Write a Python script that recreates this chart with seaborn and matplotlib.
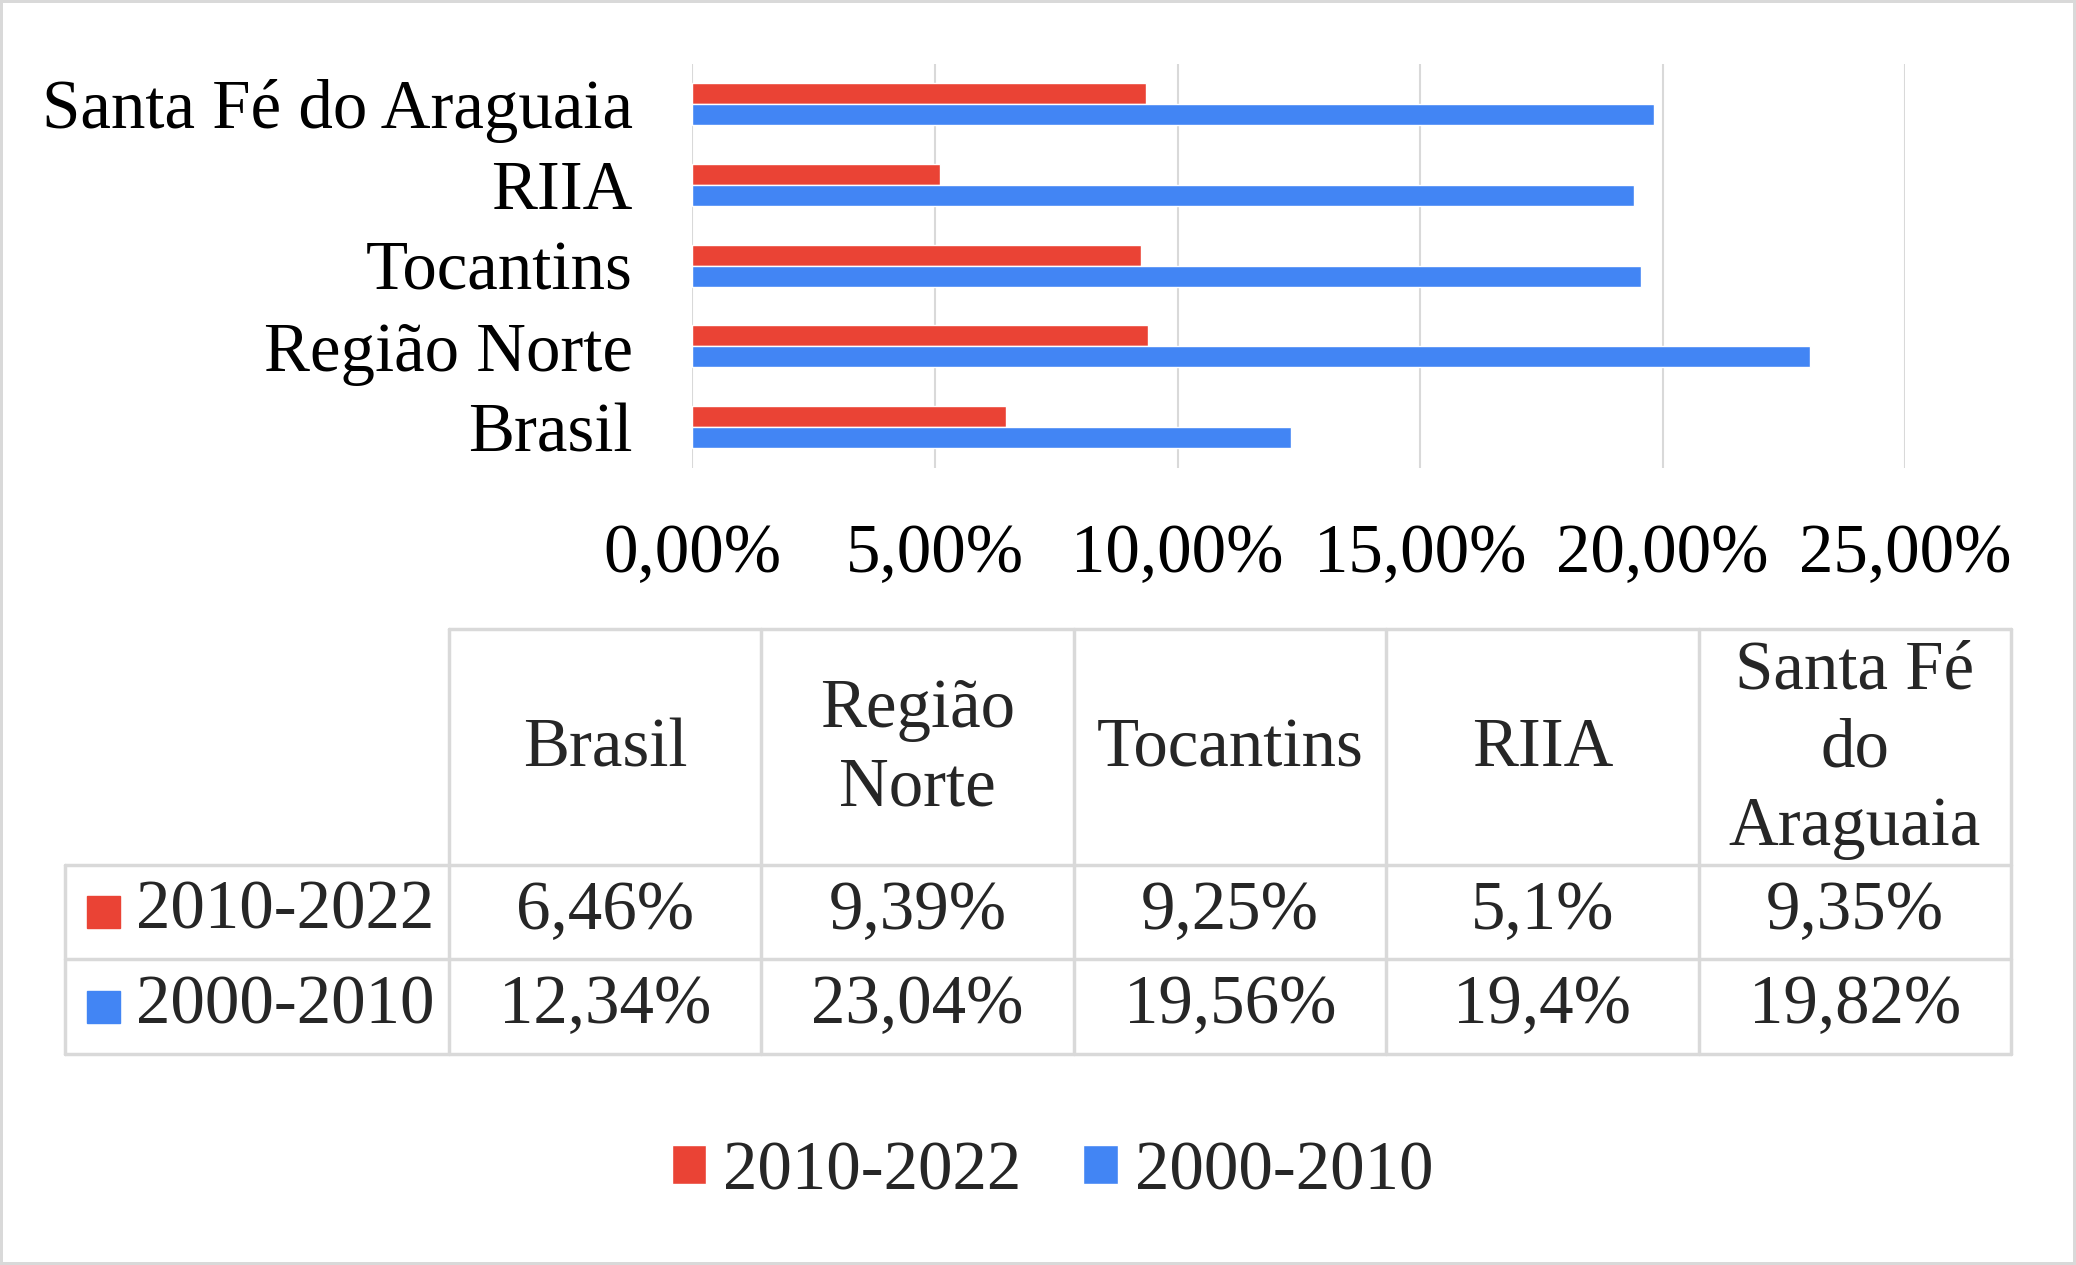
import matplotlib.pyplot as plt
import matplotlib.lines as mlines
import matplotlib.patches as mpatches
import pandas as pd
import seaborn as sns

categories = ["Brasil", "Região Norte", "Tocantins", "RIIA", "Santa Fé do Araguaia"]
header_labels = ["Brasil", "Região\nNorte", "Tocantins", "RIIA", "Santa Fé\ndo\nAraguaia"]
series_names = ["2010-2022", "2000-2010"]
values_2010_2022 = [6.46, 9.39, 9.25, 5.1, 9.35]
values_2000_2010 = [12.34, 23.04, 19.56, 19.4, 19.82]
x_ticks = [0, 5, 10, 15, 20, 25]
colors = ["#EA4335", "#4285F4"]
grid_color = "#d9d9d9"
fs = 49.6

# layout helpers: positions measured on a 1568x955 copy of the reference
W, H = 1568, 955


def fx(x):
    return x / W


def fy(y):
    return 1 - y / H


def fmt(v):
    return f"{v:g}".replace(".", ",") + "%"


df = pd.DataFrame({
    "categoria": categories * 2,
    "periodo": [series_names[0]] * len(categories) + [series_names[1]] * len(categories),
    "valor": values_2010_2022 + values_2000_2010,
})

sns.set_theme(style="white")
plt.rcParams['font.family'] = ['Liberation Serif', 'DejaVu Serif']

fig = plt.figure(figsize=(20.76, 12.65), dpi=100)
fig.patch.set_edgecolor(grid_color)
fig.patch.set_linewidth(3)

ax = fig.add_axes([fx(523), fy(353), fx(1439) - fx(523), fy(48) - fy(353)])
sns.barplot(data=df, x="valor", y="categoria", hue="periodo",
            order=categories[::-1], hue_order=series_names,
            palette=colors, width=0.52, saturation=1, ax=ax)
handles, labels = ax.get_legend_handles_labels()
ax.get_legend().remove()

ax.set_xlim(0, 25)
ax.set_ylim(4.5, -0.5)
ax.set_xticks(x_ticks)
ax.set_xticklabels([f"{t:.2f}".replace(".", ",") + "%" for t in x_ticks])
ax.xaxis.grid(True, color=grid_color, lw=1.5)
ax.set_axisbelow(True)
for s in ax.spines.values():
    s.set_visible(False)
ax.tick_params(axis="both", length=0, labelsize=fs, colors="black")
ax.tick_params(axis="x", pad=40)
ax.tick_params(axis="y", pad=43)
ax.set_xlabel("")
ax.set_ylabel("")

# data table under the chart
col_edges = [339, 575, 811, 1047, 1283, 1519]
row_edges = [475, 653, 724, 796]
line_kw = dict(color=grid_color, lw=2.5, transform=fig.transFigure)

fig.add_artist(mlines.Line2D([fx(339), fx(1519)], [fy(475), fy(475)], **line_kw))
for y in row_edges[1:]:
    fig.add_artist(mlines.Line2D([fx(49), fx(1519)], [fy(y), fy(y)], **line_kw))
fig.add_artist(mlines.Line2D([fx(49), fx(49)], [fy(653), fy(796)], **line_kw))
for x in col_edges:
    fig.add_artist(mlines.Line2D([fx(x), fx(x)], [fy(475), fy(796)], **line_kw))

for i, lab in enumerate(header_labels):
    cx = (col_edges[i] + col_edges[i + 1]) / 2
    fig.text(fx(cx), fy(566), lab, ha="center", va="center",
             fontsize=fs, linespacing=1.3)

table_rows = [values_2010_2022, values_2000_2010]
for r, vals in enumerate(table_rows):
    cy = (row_edges[r + 1] + row_edges[r + 2]) / 2
    fig.add_artist(mpatches.Rectangle((fx(66), fy(cy + 12)), fx(91) - fx(66),
                                      fy(cy - 12) - fy(cy + 12),
                                      transform=fig.transFigure, color=colors[r]))
    fig.text(fx(103), fy(cy), series_names[r], ha="left", va="center", fontsize=fs)
    for i, v in enumerate(vals):
        cx = (col_edges[i] + col_edges[i + 1]) / 2
        fig.text(fx(cx), fy(cy), fmt(v), ha="center", va="center", fontsize=fs)

fig.legend(handles, labels, loc="center", bbox_to_anchor=(fx(795), fy(885)),
           ncol=2, frameon=False, fontsize=fs, handlelength=0.5,
           handleheight=0.5, handletextpad=0.25, columnspacing=0.9)

fig.savefig("out.png", dpi=100)
